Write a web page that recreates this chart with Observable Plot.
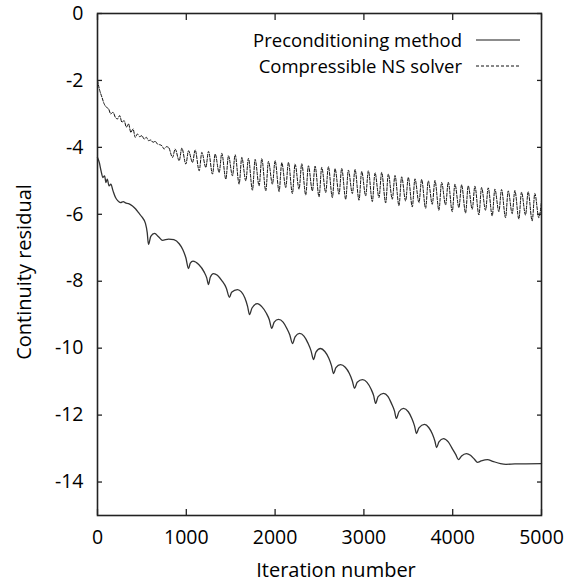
<!DOCTYPE html>
<html>
<head>
<meta charset="utf-8">
<script src="https://cdn.jsdelivr.net/npm/d3@7"></script>
<script src="https://cdn.jsdelivr.net/npm/@observablehq/plot@0.6"></script>
<style>
  html, body { margin: 0; padding: 0; background: #fff; }
  #chart { position: relative; width: 577px; height: 583px; }
</style>
</head>
<body>
<div id="chart"></div>
<script>
// ---- Data ----
const xTicks = [0, 1000, 2000, 3000, 4000, 5000];
const yTicks = [0, -2, -4, -6, -8, -10, -12, -14];
const xLabel = "Iteration number";
const yLabel = "Continuity residual";
const seriesNames = ["Preconditioning method", "Compressible NS solver"];

// Preconditioning method (solid)
const precIter = [
  0, 20, 40, 60, 80, 95, 110, 130, 150, 175, 203, 230, 259, 290, 315, 350, 394, 430, 462, 500, 540, 560,
  574, 600, 642, 690, 732, 800, 860, 920, 960, 995,
  1025, 1045, 1075, 1140, 1200, 1230,
  1250, 1270, 1306, 1350, 1400, 1450,
  1486, 1510, 1576, 1620, 1660, 1690,
  1712, 1740, 1800, 1850, 1900, 1935,
  1962, 1990, 2038, 2090, 2130, 2165,
  2196, 2225, 2275, 2325, 2370, 2405,
  2432, 2460, 2511, 2560, 2605, 2635,
  2658, 2685, 2736, 2790, 2835, 2870,
  2894, 2925, 2984, 3035, 3080, 3110,
  3131, 3160, 3221, 3270, 3310, 3345,
  3365, 3395, 3446, 3500, 3540, 3570,
  3592, 3620, 3682, 3730, 3770, 3800,
  3818, 3845, 3896, 3950, 3995, 4035,
  4065, 4100, 4155, 4200, 4245,
  4279, 4320, 4392, 4450, 4538, 4600, 4700, 5000
];
const precVal = [
  -4.30, -4.45, -4.70, -4.90, -4.85, -5.05, -4.95, -5.15, -5.10, -5.30, -5.50, -5.60, -5.65, -5.62, -5.66, -5.68, -5.75, -5.84, -5.95, -6.08, -6.27, -6.55,
  -6.90, -6.66, -6.57, -6.68, -6.78, -6.74, -6.76, -6.88, -7.05, -7.30,
  -7.62, -7.46, -7.40, -7.50, -7.72, -7.90,
  -8.10, -7.88, -7.77, -7.82, -7.98, -8.20,
  -8.48, -8.33, -8.25, -8.32, -8.50, -8.75,
  -9.00, -8.80, -8.67, -8.76, -8.95, -9.15,
  -9.41, -9.22, -9.14, -9.22, -9.40, -9.60,
  -9.86, -9.66, -9.56, -9.64, -9.85, -10.08,
  -10.34, -10.12, -10.01, -10.10, -10.30, -10.52,
  -10.76, -10.58, -10.49, -10.57, -10.75, -10.98,
  -11.20, -11.02, -10.94, -11.02, -11.22, -11.42,
  -11.65, -11.45, -11.35, -11.44, -11.65, -11.88,
  -12.10, -11.90, -11.80, -11.90, -12.10, -12.32,
  -12.55, -12.38, -12.28, -12.37, -12.56, -12.78,
  -12.97, -12.80, -12.70, -12.80, -13.00, -13.18,
  -13.33, -13.22, -13.15, -13.20, -13.32,
  -13.41, -13.37, -13.33, -13.38, -13.45, -13.47, -13.46, -13.45
];

// Compressible NS solver (dashed)
const compIter = [
  0, 25, 50, 75, 100, 125, 150, 175, 200, 225, 250, 275, 300, 325, 350, 375, 400, 425, 450, 475,
  500, 525, 550, 575, 600, 625, 650, 675, 700, 725, 750, 775,
  800, 845, 875, 920, 950, 995, 1025, 1070, 1100, 1145, 1175, 1220, 1250, 1295, 1325, 1370,
  1400, 1445, 1475, 1520, 1550, 1595, 1625, 1670, 1700, 1745, 1775, 1820, 1850, 1895, 1925, 1970,
  2000, 2045, 2075, 2120, 2150, 2195, 2225, 2270, 2300, 2345, 2375, 2420, 2450, 2495, 2525, 2570,
  2600, 2645, 2675, 2720, 2750, 2795, 2825, 2870, 2900, 2945, 2975, 3020, 3050, 3095, 3125, 3170,
  3200, 3245, 3275, 3320, 3350, 3395, 3425, 3470, 3500, 3545, 3575, 3620, 3650, 3695, 3725, 3770,
  3800, 3845, 3875, 3920, 3950, 3995, 4025, 4070, 4100, 4145, 4175, 4220, 4250, 4295, 4325, 4370,
  4400, 4445, 4475, 4520, 4550, 4595, 4625, 4670, 4700, 4745, 4775, 4820, 4850, 4895, 4925, 4970,
  5000
];
const compVal = [
  -2.00, -2.30, -2.50, -2.70, -2.80, -2.85, -3.00, -2.95, -3.10, -3.15, -3.05, -3.25, -3.20, -3.40, -3.30, -3.55, -3.45, -3.70, -3.60, -3.68,
  -3.65, -3.75, -3.70, -3.80, -3.78, -3.85, -3.82, -3.90, -3.92, -3.95, -4.05, -3.98,
  -4.00, -4.30, -4.05, -4.40, -4.02, -4.50, -4.10, -4.45, -4.08, -4.70, -4.15, -4.60, -4.12, -4.80, -4.20, -4.75,
  -4.18, -4.95, -4.25, -4.85, -4.22, -5.10, -4.30, -5.00, -4.33, -5.28, -4.36, -5.15, -4.34, -5.30, -4.42, -5.10,
  -4.40, -5.32, -4.46, -5.20, -4.45, -5.38, -4.50, -5.25, -4.49, -5.42, -4.55, -5.30, -4.56, -5.48, -4.60, -5.35,
  -4.58, -5.50, -4.64, -5.40, -4.63, -5.55, -4.68, -5.38, -4.66, -5.58, -4.72, -5.45, -4.70, -5.62, -4.76, -5.50,
  -4.75, -5.66, -4.80, -5.55, -4.84, -5.74, -4.88, -5.60, -4.90, -5.78, -4.94, -5.65, -4.96, -5.82, -5.00, -5.70,
  -4.99, -5.88, -5.05, -5.72, -5.04, -5.92, -5.10, -5.80, -5.12, -5.96, -5.15, -5.85, -5.16, -6.02, -5.20, -5.88,
  -5.21, -6.05, -5.25, -5.92, -5.26, -6.10, -5.30, -5.98, -5.29, -6.14, -5.34, -6.02, -5.33, -6.20, -5.38, -6.10,
  -5.60
];

// ---- Build tables ----
const prec = precIter.map((x, i) => ({x, y: precVal[i]}));
const comp = compIter.map((x, i) => ({x, y: compVal[i]}));

const FONT = "Open Sans";
const FS = 19.5;
const LEGEND_FS = 18.5;

const plot = Plot.plot({
  width: 577,
  height: 583,
  marginLeft: 97,
  marginRight: 36,
  marginTop: 13,
  marginBottom: 68,
  style: {fontFamily: FONT, fontSize: FS + "px", color: "#000", background: "#fff"},
  x: {domain: [0, 5000]},
  y: {domain: [-15, 0]},
  marks: [
    Plot.line(comp, {x: "x", y: "y", stroke: "#111", strokeWidth: 1, strokeDasharray: "3,1.6", curve: "monotone-x"}),
    Plot.line(prec, {x: "x", y: "y", stroke: "#333", strokeWidth: 1.3, curve: "monotone-x"}),
    // inward ticks on all four sides
    Plot.axisY({anchor: "left", ticks: yTicks, tickSize: -5, fill: "none", label: null, stroke: "#222", strokeWidth: 1.3}),
    Plot.axisY({anchor: "right", ticks: yTicks, tickSize: -5, fill: "none", label: null, stroke: "#222", strokeWidth: 1.3}),
    Plot.axisX({anchor: "bottom", ticks: xTicks, tickSize: -6, fill: "none", label: null, stroke: "#222", strokeWidth: 1.3}),
    Plot.axisX({anchor: "top", ticks: xTicks, tickSize: -6, fill: "none", label: null, stroke: "#222", strokeWidth: 1.3}),
    // tick labels
    Plot.axisY({anchor: "left", ticks: yTicks, tickSize: 0, tickPadding: 14, label: null, tickFormat: d => String(d), fontSize: FS}),
    Plot.axisX({anchor: "bottom", ticks: xTicks, tickSize: 0, tickPadding: 15, label: null, tickFormat: d => String(d), fontSize: FS}),
    Plot.frame({stroke: "#222", strokeWidth: 1.6})
  ]
});

document.getElementById("chart").appendChild(plot);

// ---- Axis titles and legend ----
const svg = d3.select(plot);
svg.append("text")
  .attr("x", 336).attr("y", 577)
  .attr("text-anchor", "middle")
  .attr("font-family", FONT).attr("font-size", FS + 0.5)
  .attr("fill", "#000")
  .text(xLabel);
svg.append("text")
  .attr("transform", "translate(31,272) rotate(-90)")
  .attr("text-anchor", "middle")
  .attr("font-family", FONT).attr("font-size", FS + 0.5)
  .attr("fill", "#000")
  .text(yLabel);

// legend: text per series plus line samples
const legend = svg.append("g");
const legendStyles = [
  {stroke: "#666", dash: null, width: 1.3},
  {stroke: "#111", dash: "3,2", width: 1}
];
seriesNames.forEach((name, i) => {
  const yb = 47 + i * 26;
  legend.append("text")
    .attr("x", 462).attr("y", yb)
    .attr("text-anchor", "end")
    .attr("font-family", FONT).attr("font-size", LEGEND_FS)
    .attr("fill", "#000")
    .text(name);
  legend.append("line")
    .attr("x1", 476).attr("x2", 520)
    .attr("y1", yb - 7).attr("y2", yb - 7)
    .attr("stroke", legendStyles[i].stroke)
    .attr("stroke-width", legendStyles[i].width)
    .attr("stroke-dasharray", legendStyles[i].dash);
});
</script>
</body>
</html>
